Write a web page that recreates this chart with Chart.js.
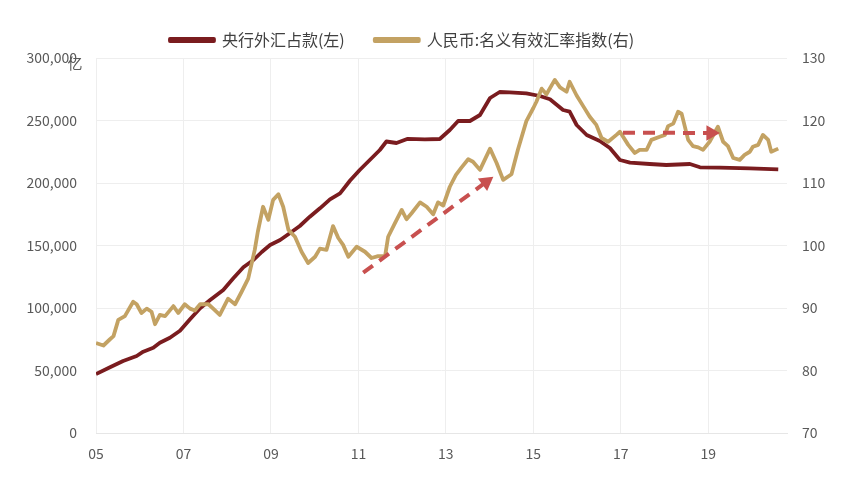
<!DOCTYPE html>
<html>
<head>
<meta charset="utf-8">
<script src="https://cdn.jsdelivr.net/npm/chart.js@4.4.1/dist/chart.umd.min.js"></script>
<style>
html,body{margin:0;padding:0;background:#fff;}
#wrap{width:860px;height:481px;position:relative;}
</style>
</head>
<body>
<div id="wrap"><canvas id="c"></canvas></div>
<script>
// ---- data (decimal years) ----
const seriesNames = ['央行外汇占款(左)', '人民币:名义有效汇率指数(右)'];
const fxYears = [2005.00,2005.32,2005.62,2005.93,2006.08,2006.31,2006.46,2006.69,2006.92,2007.15,2007.38,2007.61,2007.91,2008.14,2008.37,2008.60,2008.79,2008.98,2009.21,2009.43,2009.66,2009.89,2010.12,2010.35,2010.58,2010.81,2011.03,2011.26,2011.49,2011.64,2011.87,2012.13,2012.52,2012.86,2013.09,2013.28,2013.55,2013.78,2014.01,2014.23,2014.46,2014.84,2015.15,2015.38,2015.68,2015.83,2015.99,2016.22,2016.52,2016.75,2016.98,2017.21,2017.66,2018.04,2018.58,2018.81,2019.26,2019.95,2020.60];
const fxValues = [47200,52560,57600,61600,65040,68240,72240,76240,81840,90960,99760,106400,114400,123760,132560,138400,144800,150400,154400,159760,165600,173040,179760,186960,191760,202000,210400,218400,226400,233200,232000,235360,234960,235200,242400,249600,249600,254400,268000,272800,272560,271760,269600,266960,258400,257040,246400,238400,233600,228000,218400,216240,215200,214400,215200,212560,212240,211760,210960];
const rmbYears = [2005.00,2005.17,2005.32,2005.40,2005.51,2005.66,2005.85,2005.93,2006.04,2006.16,2006.27,2006.35,2006.46,2006.58,2006.77,2006.88,2007.03,2007.15,2007.26,2007.38,2007.57,2007.68,2007.83,2008.02,2008.18,2008.33,2008.48,2008.63,2008.70,2008.82,2008.94,2009.05,2009.17,2009.28,2009.40,2009.55,2009.70,2009.85,2010.01,2010.12,2010.27,2010.42,2010.54,2010.65,2010.77,2010.96,2011.15,2011.30,2011.45,2011.61,2011.68,2011.83,2011.99,2012.10,2012.22,2012.41,2012.56,2012.71,2012.82,2012.94,2013.09,2013.23,2013.36,2013.51,2013.62,2013.78,2014.01,2014.16,2014.31,2014.50,2014.65,2014.84,2015.00,2015.07,2015.19,2015.30,2015.49,2015.61,2015.76,2015.83,2015.99,2016.14,2016.29,2016.44,2016.56,2016.71,2016.90,2016.98,2017.17,2017.32,2017.43,2017.59,2017.70,2017.89,2018.01,2018.08,2018.20,2018.31,2018.39,2018.54,2018.65,2018.77,2018.88,2019.03,2019.22,2019.34,2019.45,2019.57,2019.72,2019.83,2019.95,2020.02,2020.14,2020.25,2020.37,2020.44,2020.60];
const rmbValues = [84.4,84.0,85.0,85.5,88.1,88.7,91.0,90.6,89.2,89.9,89.4,87.4,88.9,88.7,90.3,89.2,90.6,89.9,89.6,90.6,90.6,89.9,88.9,91.5,90.6,92.6,94.7,99.3,102.2,106.2,104.1,107.3,108.2,106.2,102.5,101.4,99.0,97.2,98.2,99.5,99.3,103.1,101.2,100.1,98.2,99.8,99.0,98.0,98.3,98.3,101.4,103.5,105.7,104.2,105.2,106.9,106.2,105.0,106.9,106.4,109.4,111.3,112.5,113.8,113.4,112.1,115.5,113.2,110.5,111.4,115.4,119.9,122.0,123.0,125.1,124.2,126.5,125.3,124.6,126.2,124.0,122.3,120.6,119.3,117.2,116.6,117.7,118.2,116.1,114.8,115.3,115.3,116.9,117.4,117.7,119.1,119.5,121.4,121.1,116.9,115.9,115.7,115.3,116.6,119.0,116.6,115.9,114.0,113.7,114.5,115.0,115.8,116.1,117.7,116.9,115.0,115.5];
// trend arrows (right axis units)
const arrow1Years = [2011.11, 2013.92];
const arrow1Values = [95.65, 110.16];
const arrow2Years = [2017.05, 2019.06];
const arrow2Values = [118.05, 118.0];
// axes
const tickYears = [2005, 2007, 2009, 2011, 2013, 2015, 2017, 2019];
const tickLabels = ['05', '07', '09', '11', '13', '15', '17', '19'];
const unitLabel = '亿';

const pts = (xs, ys) => xs.map((x, i) => ({x: x, y: ys[i]}));

const FONT = '"Noto Sans CJK SC", "Noto Sans", sans-serif';
const TICK_COLOR = '#595959';
const GRID = '#eeeeee';
const ARROW = '#c8504f';

function arrowRotation(ctx) {
  if (ctx.type !== 'data' || ctx.dataIndex === 0) return 0;
  const ch = ctx.chart, xs = ch.scales.x, ys = ch.scales.y1;
  const d = ctx.dataset.data;
  if (!xs || !ys) return 0;
  const x0 = xs.getPixelForValue(d[0].x), y0 = ys.getPixelForValue(d[0].y);
  const x1 = xs.getPixelForValue(d[1].x), y1 = ys.getPixelForValue(d[1].y);
  return Math.atan2(x1 - x0, -(y1 - y0)) * 180 / Math.PI;
}

const extras = {
  id: 'extras',
  afterLayout(chart) {
    const lg = chart.legend;
    if (lg) { lg.left -= 28; lg.right -= 28; }
  },
  afterDraw(chart) {
    const c = chart.ctx, a = chart.chartArea;
    c.save();
    c.font = '15px ' + FONT;
    c.fillStyle = TICK_COLOR;
    c.textAlign = 'center';
    c.textBaseline = 'middle';
    c.fillText(unitLabel, a.left - 21, a.top + 5);
    c.restore();
  }
};

const arrowDs = (data) => ({
  label: '_arrow',
  data: data,
  yAxisID: 'y1',
  borderColor: ARROW,
  backgroundColor: ARROW,
  borderWidth: 4,
  borderDash: [12, 8],
  pointRadius: [0, 9],
  pointHoverRadius: [0, 9],
  pointStyle: 'triangle',
  pointBorderWidth: 0,
  pointBackgroundColor: ARROW,
  pointRotation: arrowRotation,
  order: 0
});

new Chart(document.getElementById('c'), {
  type: 'line',
  data: {
    datasets: [
      {
        label: seriesNames[0],
        data: pts(fxYears, fxValues),
        yAxisID: 'y',
        borderColor: '#7a1c1f',
        backgroundColor: '#7a1c1f',
        borderWidth: 3.8,
        pointRadius: 0,
        tension: 0,
        borderJoinStyle: 'round',
        order: 2
      },
      {
        label: seriesNames[1],
        data: pts(rmbYears, rmbValues),
        yAxisID: 'y1',
        borderColor: '#c3a263',
        backgroundColor: '#c3a263',
        borderWidth: 3.8,
        pointRadius: 0,
        tension: 0,
        borderJoinStyle: 'round',
        order: 1
      },
      arrowDs(pts(arrow1Years, arrow1Values)),
      arrowDs(pts(arrow2Years, arrow2Values))
    ]
  },
  options: {
    responsive: true,
    maintainAspectRatio: false,
    animation: false,
    layout: {padding: {top: 2, left: 0, right: 0, bottom: 0}},
    plugins: {
      tooltip: {enabled: false},
      legend: {
        position: 'top',
        labels: {
          filter: (item) => item.text !== '_arrow',
          sort: (a, b) => a.datasetIndex - b.datasetIndex,
          font: {family: FONT, size: 16},
          color: '#404040',
          boxWidth: 44,
          boxHeight: 2,
          padding: 30
        }
      }
    },
    scales: {
      x: {
        type: 'linear',
        min: 2005,
        max: 2020.8,
        afterBuildTicks: (s) => { s.ticks = tickYears.map(v => ({value: v})); },
        afterFit: (s) => { s.height = 48; },
        ticks: {
          callback: (v) => { const i = tickYears.indexOf(v); return i >= 0 ? tickLabels[i] : ''; },
          font: {family: FONT, size: 14},
          color: TICK_COLOR,
          padding: 12,
          maxRotation: 0,
          autoSkip: false
        },
        grid: {color: GRID, drawTicks: false, lineWidth: 1},
        border: {color: '#e6e6e6'}
      },
      y: {
        position: 'left',
        min: 0,
        max: 300000,
        afterFit: (s) => { s.width = 96; },
        ticks: {
          stepSize: 50000,
          callback: (v) => v.toLocaleString('en-US'),
          font: {family: FONT, size: 14},
          color: TICK_COLOR,
          padding: 19
        },
        grid: {color: GRID, drawTicks: false},
        border: {display: false}
      },
      y1: {
        position: 'right',
        min: 70,
        max: 130,
        afterFit: (s) => { s.width = 73; },
        ticks: {
          stepSize: 10,
          font: {family: FONT, size: 14},
          color: TICK_COLOR,
          padding: 15
        },
        grid: {display: false, drawTicks: false},
        border: {display: false}
      }
    }
  },
  plugins: [extras]
});
</script>
</body>
</html>
